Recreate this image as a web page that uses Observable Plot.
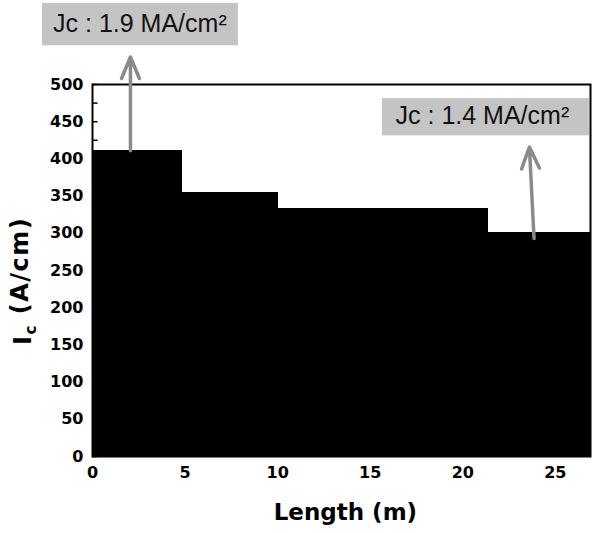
<!DOCTYPE html>
<html><head><meta charset="utf-8">
<script src="https://cdn.jsdelivr.net/npm/d3@7"></script>
<script src="https://cdn.jsdelivr.net/npm/@observablehq/plot@0.6"></script>
<style>body{margin:0;background:#fff}</style>
</head><body><div id="chart"></div>
<script>
// step segments of the measured critical current along the tape
const segStart = [0, 4.86, 10.0, 21.35];
const segEnd   = [4.86, 10.0, 21.35, 26.9];
const segIc    = [411, 354, 333, 301];

const xTicks = [0, 5, 10, 15, 20, 25];
const yTicks = [0, 50, 100, 150, 200, 250, 300, 350, 400, 450, 500];
const yMinor = [25, 75, 125, 175, 225, 275, 325, 375, 425, 475];

const xLabel = "Length (m)";
const yLabel = "Ic (A/cm)";

// annotations
const noteText = ["Jc : 1.9 MA/cm\u00B2", "Jc : 1.4 MA/cm\u00B2"];
const noteX = [2.56, 21.06];
const noteY = [581, 457];
const boxX1 = [-2.7, 15.66];
const boxX2 = [7.88, 26.84];
const boxY1 = [552, 431];
const boxY2 = [609, 481];
const arrowX1 = [2.05, 23.85];
const arrowX2 = [2.05, 23.6];
const arrowY1 = [411, 293];
const arrowY2 = [537, 416];

const segs = segStart.map((s, i) => ({x1: s, x2: segEnd[i], y: segIc[i]}));
const notes = noteText.map((t, i) => ({t, x: noteX[i], y: noteY[i], bx1: boxX1[i], bx2: boxX2[i], by1: boxY1[i], by2: boxY2[i]}));
const arrows = arrowX1.map((x, i) => ({x1: x, x2: arrowX2[i], y1: arrowY1[i], y2: arrowY2[i]}));

const boldFont = "DejaVu Sans, Verdana, sans-serif";

const svg = Plot.plot({
  width: 592,
  height: 533,
  marginLeft: 92,
  marginRight: 2,
  marginTop: 84,
  marginBottom: 77,
  style: {fontFamily: "Liberation Sans, Arial, sans-serif", background: "#fff"},
  x: {domain: [0, 26.9]},
  y: {domain: [0, 500]},
  marks: [
    Plot.rectY(segs, {x1: "x1", x2: "x2", y: "y", fill: "#000", stroke: "#000", strokeWidth: 1, shapeRendering: "crispEdges"}),
    Plot.ruleY(yMinor.concat(yTicks), {x1: 0, x2: 0.3, stroke: "#000", strokeWidth: 1.5}),
    Plot.frame({stroke: "#000", strokeWidth: 2}),
    Plot.axisX(xTicks, {ticks: xTicks, tickSize: 0, tickPadding: 10, label: null, fontSize: 16, fontWeight: "bold", fontFamily: boldFont}),
    Plot.axisY(yTicks, {ticks: yTicks, tickSize: 0, tickPadding: 9, label: null, fontSize: 16, fontWeight: "bold", fontFamily: boldFont}),
    Plot.rect(notes, {x1: "bx1", x2: "bx2", y1: "by1", y2: "by2", fill: "#c4c4c4", clip: false}),
    Plot.text(notes, {x: "x", y: "y", text: "t", fontSize: 25, fill: "#111", fontWeight: "normal", clip: false}),
    Plot.arrow(arrows, {x1: "x1", y1: "y1", x2: "x2", y2: "y2", stroke: "#8a8a8a", strokeWidth: 3.5, headLength: 10, headAngle: 45, clip: false}),
    Plot.text([xLabel], {x: 13.66, y: -75, text: d => d, fontSize: 23, fontWeight: "bold", fontFamily: boldFont, fill: "#000", clip: false}),
    Plot.text([yLabel], {x: -3.75, y: 236, text: d => d, rotate: -90, fontSize: 24, fontWeight: "bold", fontFamily: boldFont, fill: "#000", clip: false})
  ]
});

// render subscript c in the y-axis label
d3.select(svg).selectAll("text").filter(function () { return this.textContent === yLabel; }).each(function () {
  const t = d3.select(this);
  const target = t.selectAll("tspan").empty() ? t : t.select("tspan");
  target.text(null);
  target.append("tspan").text("I");
  target.append("tspan").attr("dy", "0.35em").attr("font-size", 15).text("c");
  target.append("tspan").attr("dy", "-0.35em").text(" (A/cm)");
}).style("letter-spacing", "1.5px");

document.getElementById("chart").appendChild(svg);
</script>
</body></html>
